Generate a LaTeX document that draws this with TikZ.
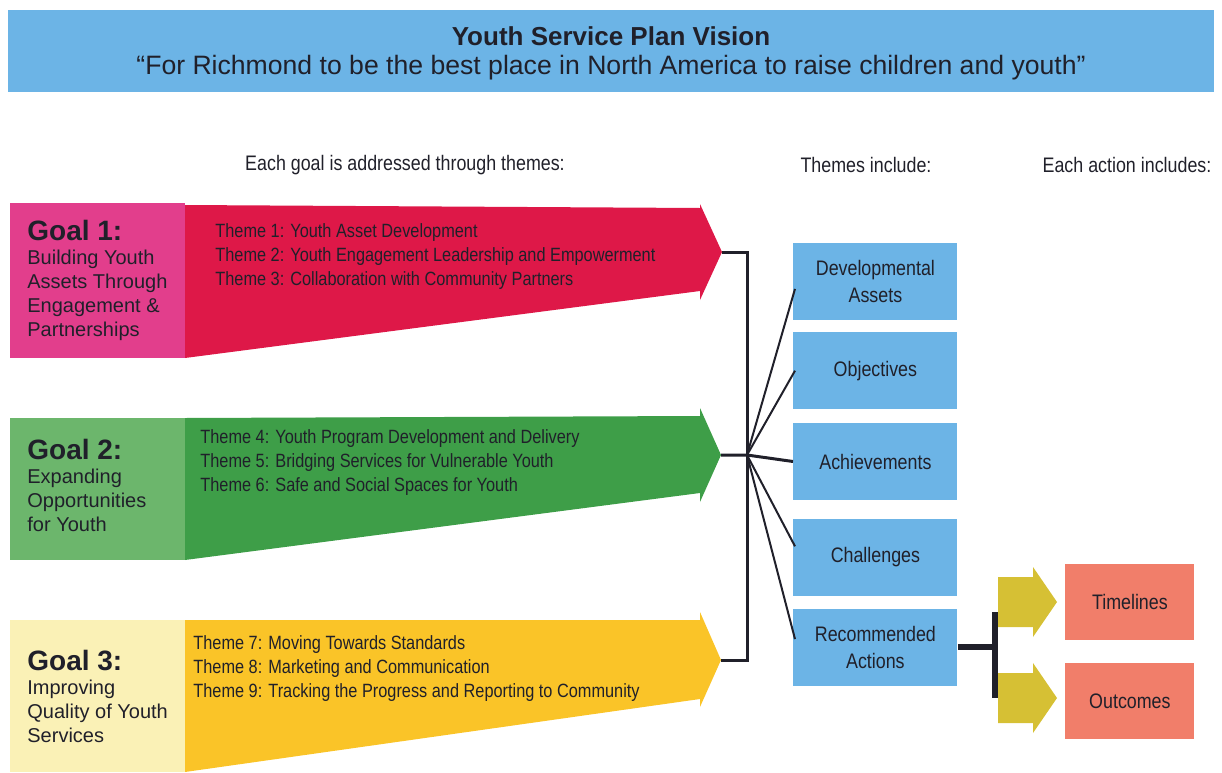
\documentclass[tikz,border=0pt]{standalone}
\usepackage{fontspec}
\setmainfont{Liberation Sans}
\newfontfamily\narrowfont[FakeStretch=0.85]{Liberation Sans}
\usetikzlibrary{calc,positioning}
\definecolor{VisionBlue}{RGB}{108,180,230}
\definecolor{GoalPink}{RGB}{226,62,140}
\definecolor{ThemeRed}{RGB}{222,24,72}
\definecolor{GoalGreen}{RGB}{108,182,108}
\definecolor{ThemeGreen}{RGB}{62,158,72}
\definecolor{GoalCream}{RGB}{250,241,182}
\definecolor{ThemeGold}{RGB}{250,196,40}
\definecolor{ActionOlive}{RGB}{214,192,52}
\definecolor{OutcomeSalmon}{RGB}{241,126,106}
\definecolor{InkGray}{RGB}{32,32,42}

\begin{document}
\begin{tikzpicture}[x=0.5pt,y=-0.5pt,
    goalbox/.style={minimum width=87.5pt,minimum height=#1,inner sep=0pt,anchor=north west},
    goaltext/.style={anchor=west,inner sep=0pt,align=left,text=InkGray,
      font=\fontsize{10}{12}\selectfont},
    themelist/.style={anchor=north west,inner sep=0pt,align=left,text=InkGray,
      font=\narrowfont\fontsize{9.6}{12}\selectfont},
    topicbox/.style={fill=VisionBlue,minimum width=82pt,minimum height=38.5pt,inner sep=0pt,
      align=center,text=InkGray,font=\narrowfont\fontsize{10.5}{13.5}\selectfont},
    resultbox/.style={fill=OutcomeSalmon,minimum width=64.5pt,minimum height=38pt,inner sep=0pt,
      text=InkGray,font=\narrowfont\fontsize{10.5}{13}\selectfont},
    heading/.style={text=InkGray,inner sep=0pt,font=\narrowfont\fontsize{10.5}{13}\selectfont},
    bracket/.style={line width=1.5pt,InkGray},
    fan/.style={line width=1pt,InkGray},
    actbar/.style={line width=3pt,InkGray}]
  \useasboundingbox (0,0) rectangle (1222,772);
  % vision banner
  \fill[VisionBlue] (8,10) rectangle (1214,92);
  \node[text=InkGray,font=\bfseries\fontsize{13}{15}\selectfont] (title) at (611,36)
    {Youth Service Plan Vision};
  \node[text=InkGray,font=\fontsize{13.3}{15}\selectfont] (vision) at (611,68)
    {``For Richmond to be the best place in North America to raise children and youth''};
  \node[heading] (h1) at (405,165) {Each goal is addressed through themes:};
  \node[heading] (h2) at (866,165) {Themes include:};
  \node[heading] (h3) at (1127,165) {Each action includes:};
  % goal arrows
  \fill[ThemeRed] (185,205) -- (700,208) -- (700,204) -- (722,252) -- (700,300)
    -- (700,291) -- (185,358) -- cycle;
  \fill[ThemeGreen] (185,418) -- (700,416) -- (700,408) -- (721,455) -- (700,502)
    -- (700,493) -- (185,560) -- cycle;
  \fill[ThemeGold] (185,620) -- (700,620) -- (700,612) -- (721,660) -- (700,707)
    -- (700,699) -- (185,772) -- cycle;
  \coordinate (tip1) at (722,252);
  \coordinate (tip2) at (721,455);
  \coordinate (tip3) at (721,660);
  \node[goalbox=77.5pt,fill=GoalPink] (goal1) at (10,203) {};
  \node[goalbox=71pt,fill=GoalGreen] (goal2) at (10,418) {};
  \node[goalbox=76pt,fill=GoalCream] (goal3) at (10,620) {};
  \node[goaltext] (goal1txt) at ($(goal1.west)+(17,0)$)
    {{\bfseries\fontsize{14}{16}\selectfont Goal 1:}\\Building Youth\\Assets Through\\Engagement \&\\Partnerships};
  \node[goaltext] (goal2txt) at ($(goal2.west)+(17,-4)$)
    {{\bfseries\fontsize{14}{16}\selectfont Goal 2:}\\Expanding\\Opportunities\\for Youth};
  \node[goaltext] (goal3txt) at ($(goal3.west)+(17,0)$)
    {{\bfseries\fontsize{14}{16}\selectfont Goal 3:}\\Improving\\Quality of Youth\\Services};
  \node[themelist] (list1) at (215,223) {Theme 1: Youth Asset Development\\
    Theme 2: Youth Engagement Leadership and Empowerment\\
    Theme 3: Collaboration with Community Partners};
  \node[themelist] (list2) at (200,429) {Theme 4: Youth Program Development and Delivery\\
    Theme 5: Bridging Services for Vulnerable Youth\\
    Theme 6: Safe and Social Spaces for Youth};
  \node[themelist] (list3) at (193,635) {Theme 7: Moving Towards Standards\\
    Theme 8: Marketing and Communication\\
    Theme 9: Tracking the Progress and Reporting to Community};
  % themes include
  \node[topicbox,anchor=north west] (th1) at (793,243) {Developmental\\Assets};
  \node[topicbox,below=5.5pt of th1] (th2) {Objectives};
  \node[topicbox,below=6.5pt of th2] (th3) {Achievements};
  \node[topicbox,below=9pt of th3] (th4) {Challenges};
  \node[topicbox,below=6pt of th4] (th5) {Recommended\\Actions};
  \coordinate (hub) at (747,455);
  \draw[bracket] (tip1) -| (hub) |- (tip3);
  \draw[bracket] (tip2) -- (hub) -- (th3.west);
  \foreach \t/\dy in {th1/7,th2/0,th4/-11,th5/-8}
    \draw[fan] (hub) -- ($(\t.west)+(2,\dy)$);
  % each action includes
  \node[resultbox,anchor=north west] (time) at (1065,564) {Timelines};
  \node[resultbox,anchor=north west] (outc) at (1065,663) {Outcomes};
  \coordinate (split) at (995,649);
  \draw[actbar] (th5.east) -- (th5.east -| split);
  \draw[actbar] (995,612) -- (995,698);
  \fill[ActionOlive] (998,577) -- (1033,577) -- (1033,567) -- (1057,602) -- (1033,637)
    -- (1033,627) -- (998,627) -- cycle;
  \fill[ActionOlive] (998,673) -- (1033,673) -- (1033,663) -- (1057,698) -- (1033,733)
    -- (1033,723) -- (998,723) -- cycle;
\end{tikzpicture}
\end{document}
